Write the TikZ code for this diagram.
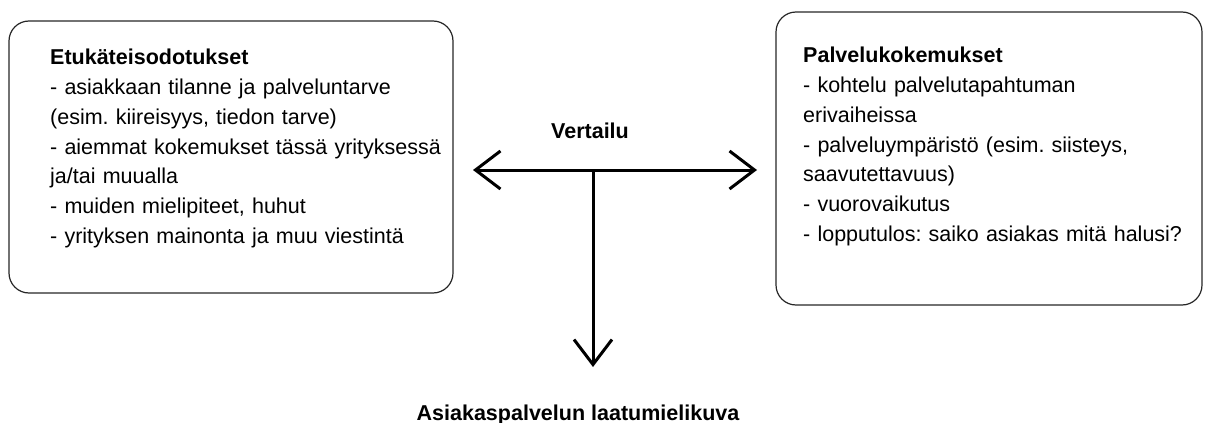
\documentclass[tikz,border=0pt]{standalone}
\usepackage{fontspec}
\setmainfont{Liberation Sans}
\usepackage{tikz}
\usetikzlibrary{arrows.meta, positioning, calc}
\frenchspacing
\tikzstyle{frame} = [rectangle,
rounded corners=20pt,
draw=black!85,
line width=1.2pt]
\tikzstyle{listtext} = [anchor=north west,
inner sep=0pt,
text width=420pt,
align=left,
font=\fontsize{21.5}{29.8}\selectfont]
\tikzstyle{headline} = [inner sep=0pt,
anchor=base,
font=\fontsize{21.5}{26}\selectfont\bfseries]
\tikzstyle{arrow} = [line width=3pt, -{Straight Barb[length=25pt, width=38pt]}]

\begin{document}
\begin{tikzpicture}[x=1pt, y=-1pt]
                \useasboundingbox (0,0) rectangle (1211,423);
                \node (expect) [frame, minimum width=444pt, minimum height=272pt] at (231,157) {};
                \node (experience) [frame, minimum width=426pt, minimum height=293pt] at (989,158.5) {};
                \node (expecttext) [listtext] at (50,49) {\textbf{Etukäteisodotukset}\\
                        - asiakkaan tilanne ja palveluntarve\\
                        (esim. kiireisyys, tiedon tarve)\\
                        - aiemmat kokemukset tässä yrityksessä\\
                        ja/tai muualla\\
                        - muiden mielipiteet, huhut\\
                        - yrityksen mainonta ja muu viestintä};
                \node (experiencetext) [listtext] at (803,47) {\textbf{Palvelukokemukset}\\
                        - kohtelu palvelutapahtuman\\
                        erivaiheissa\\
                        - palveluympäristö (esim. siisteys,\\
                        saavutettavuus)\\
                        - vuorovaikutus\\
                        - lopputulos: saiko asiakas mitä halusi?};
                \node (compare) [headline] at (590,138) {Vertailu};
                \node (quality) [headline] at (578,420) {Asiakaspalvelun laatumielikuva};

                \coordinate (mid) at (593,170);
                \coordinate (toexpect) at (473,170);
                \coordinate (toexperience) at (757,170);
                \coordinate (toquality) at (593,367);

                \draw [arrow] (mid) -- (toexpect);
                \draw [arrow] (mid) -- (toexperience);
                \draw [arrow] (mid) -- (toquality);
            \end{tikzpicture}
\end{document}
